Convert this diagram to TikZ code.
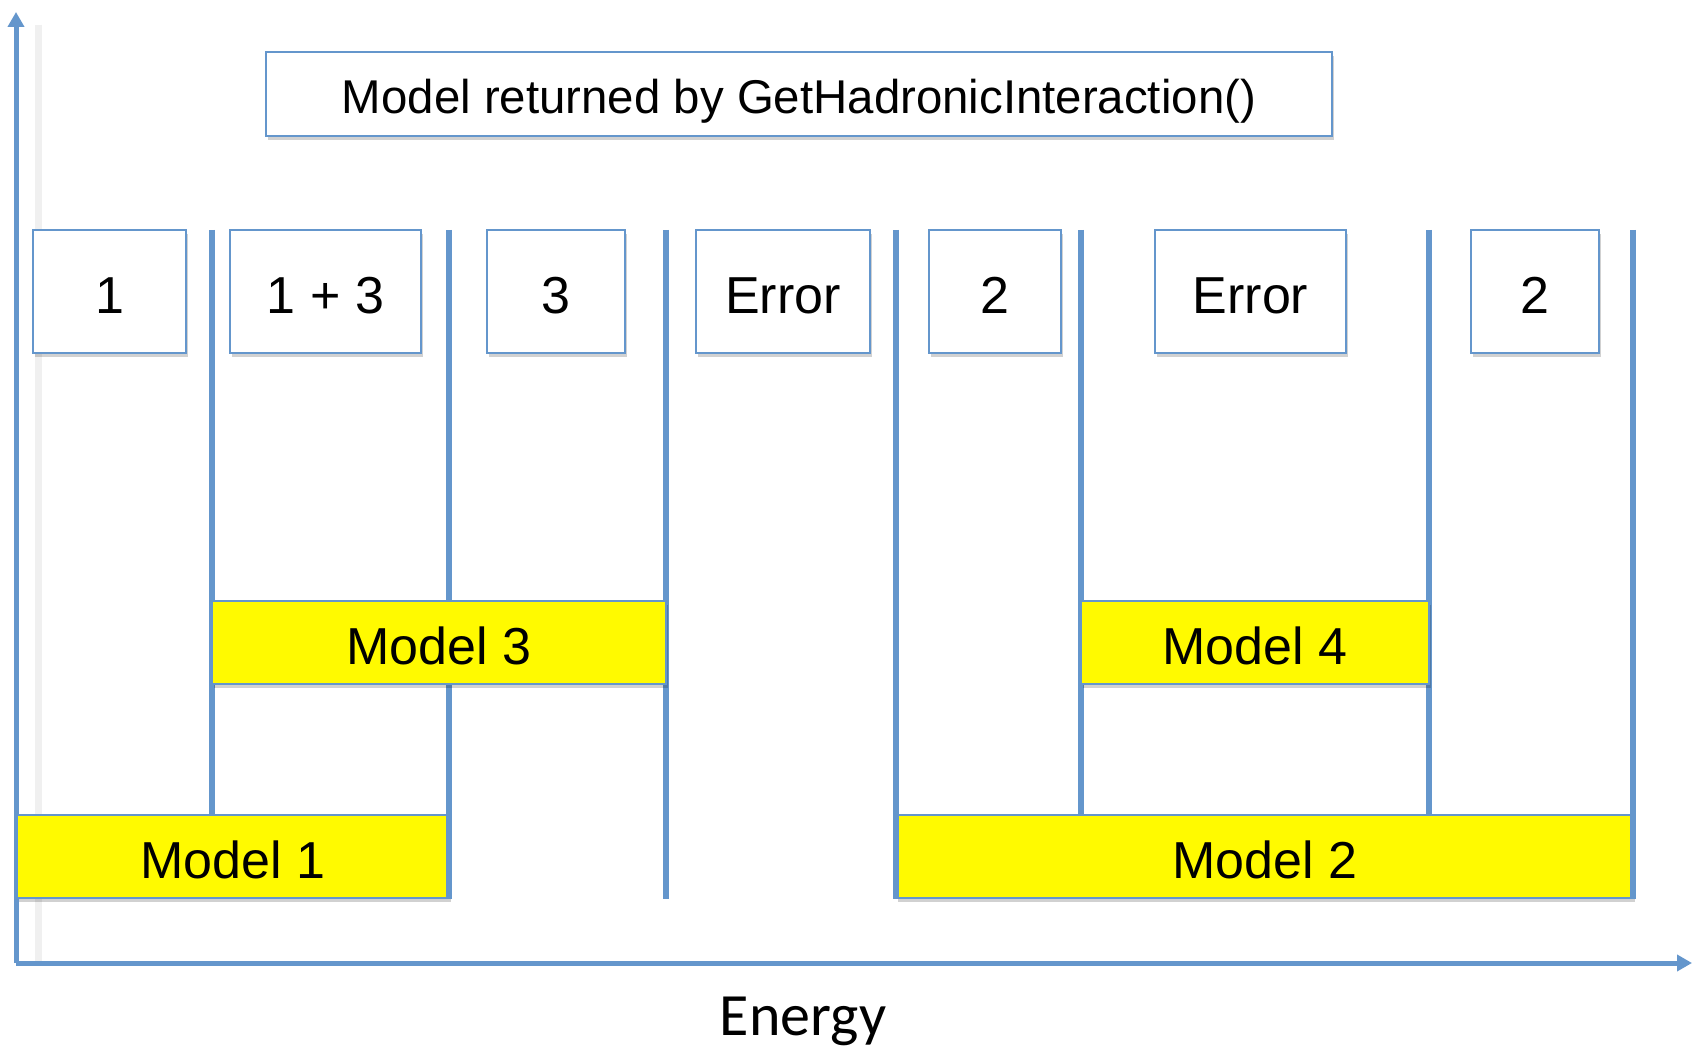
\documentclass[tikz,border=0pt]{standalone}
\usepackage{fontspec}
\setmainfont{Liberation Sans}
\newfontfamily\energyfont{Carlito}
\usetikzlibrary{arrows.meta,shadows}
\definecolor{axblue}{RGB}{100,150,204}
\definecolor{myyellow}{RGB}{255,250,0}
\begin{document}
\begin{tikzpicture}[x=0.5pt,y=-0.5pt,
  shad/.style={drop shadow={shadow xshift=1.2pt,shadow yshift=-1.8pt,opacity=0.18,fill=black}},
  valbox/.style={draw=axblue,line width=1pt,fill=white,shad,inner sep=0pt,
    minimum height=61.5pt,text height=21.6pt,text depth=0pt,font=\fontsize{26}{30}\selectfont},
  titlebox/.style={draw=axblue,line width=1pt,fill=white,shad,inner sep=0pt,
    minimum width=533pt,minimum height=42pt,text height=20pt,text depth=0pt,font=\fontsize{23.7}{28}\selectfont},
  modelbox/.style={draw=axblue,line width=0.9pt,fill=myyellow,shad,inner sep=0pt,
    minimum height=41.5pt,text height=22pt,text depth=0pt,font=\fontsize{26}{30}\selectfont},
  sep/.style={draw=axblue,line width=2.75pt},
  axis/.style={draw=axblue,line width=2.5pt,-{Triangle[length=7.5pt,width=8pt]}}]
\useasboundingbox (0,0) rectangle (1692,1047);
\fill[white] (0,0) rectangle (1692,1047);

% faint shadow of the vertical axis
\draw[black!6,line width=3.5pt] (38,25) -- (38,965);

% axes
\coordinate (orig) at (16,963);
\coordinate (ytip) at (16,12);
\coordinate (xtip) at (1692,963);
\draw[axis] (orig) -- (ytip);
\draw[axis] (orig) -- (xtip);

% title
\node[titlebox] (title) at (799,94) {Model returned by GetHadronicInteraction()};

% value boxes
\node[valbox,minimum width=76.5pt] (v1) at (109.5,291.5) {1};
\node[valbox,minimum width=95.5pt] (v13) at (325.5,291.5) {1 + 3};
\node[valbox,minimum width=69pt] (v3) at (556,291.5) {3};
\node[valbox,minimum width=87pt] (e1) at (783,291.5) {Error};
\node[valbox,minimum width=66pt] (v2a) at (995,291.5) {2};
\node[valbox,minimum width=95.5pt] (e2) at (1250.5,291.5) {Error};
\node[valbox,minimum width=64pt] (v2b) at (1535,291.5) {2};

% lower model boxes
\node[modelbox,minimum width=216pt] (m1) at (233,856.5) {Model 1};
\node[modelbox,minimum width=368.5pt] (m2) at (1264.5,856.5) {Model 2};

% separators
\coordinate (s1) at (212,230);
\coordinate (s2) at (449,230);
\coordinate (s3) at (666,230);
\coordinate (s4) at (896,230);
\coordinate (s5) at (1081,230);
\coordinate (s6) at (1429,230);
\coordinate (s7) at (1633,230);
\draw[sep] (s1) -- (s1 |- m1.north);
\draw[sep] (s2) -- (s2 |- m1.south);
\draw[sep] (s3) -- (s3 |- m1.south);
\draw[sep] (s4) -- (s4 |- m2.south);
\draw[sep] (s5) -- (s5 |- m2.north);
\draw[sep] (s6) -- (s6 |- m2.north);
\draw[sep] (s7) -- (s7 |- m2.south);

% upper model boxes
\node[modelbox,minimum width=227pt] (m3) at (439,642.5) {Model 3};
\node[modelbox,minimum width=174pt] (m4) at (1255,642.5) {Model 4};

% axis label
\node[anchor=base,inner sep=0pt,font=\energyfont\fontsize{30}{34}\selectfont] (energy) at (803,1035) {Energy};
\end{tikzpicture}
\end{document}
